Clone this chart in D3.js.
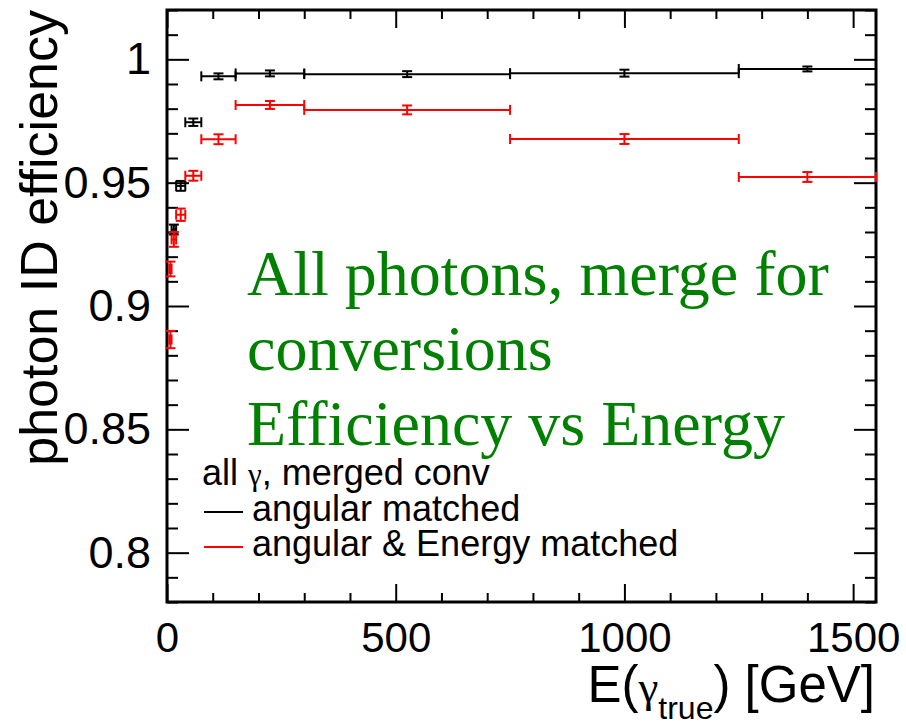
<!DOCTYPE html>
<html lang="en">
<head>
  <meta charset="UTF-8" />
  <title>photon ID efficiency vs energy</title>
  <script src="https://d3js.org/d3.v7.min.js"></script>
  <style>
    body { margin: 0; background: #fff; }
    svg { display: block; }
    .tick text { font-family: 'Liberation Sans', Arial, sans-serif; }
  </style>
</head>
<body>
<script>
  // bin edges and efficiencies
  const angLo   = [10, 20, 40, 75, 150, 300, 750, 1250];
  const angHi   = [20, 40, 75, 150, 300, 750, 1250, 1550];
  const angEff  = [0.931, 0.9487, 0.9745, 0.9931, 0.9943, 0.9940, 0.9944, 0.9961];
  const angErr  = [0.002, 0.002, 0.0015, 0.0012, 0.0012, 0.0012, 0.0014, 0.001];

  const enLo    = [5, 5, 10, 20, 40, 75, 150, 300, 750, 1250];
  const enHi    = [10, 10, 20, 40, 75, 150, 300, 750, 1250, 1550];
  const enEff   = [0.8864, 0.915, 0.927, 0.937, 0.9528, 0.9676, 0.9815, 0.9795, 0.9677, 0.9523];
  const enErr   = [0.0035, 0.003, 0.003, 0.0025, 0.002, 0.002, 0.0016, 0.0018, 0.002, 0.002];

  const xMajor = [0, 500, 1000, 1500];
  const yMajor = [0.8, 0.85, 0.9, 0.95, 1];

  const legendTitle = ["all ", "γ", ", merged conv"];
  const legendNames = ["angular matched", "angular & Energy matched"];
  const seriesColors = ["#000000", "#ff0000"];
  const noteLines = ["All photons, merge for", "conversions", "Efficiency vs Energy"];

  const width = 906, height = 728;
  const x = d3.scaleLinear().domain([0, 1550]).range([167, 876]);
  const y = d3.scaleLinear().domain([0.78, 1.02]).range([602, 10]);

  const svg = d3.select("body").append("svg")
    .attr("width", width)
    .attr("height", height);

  const xMinor = d3.range(0, 1551, 100).filter(v => v % 500 !== 0);
  const yMinor = d3.range(78, 103, 1).map(v => v / 100).filter(v => Math.round(v * 100) % 5 !== 0);

  function addAxis(axis, tx, ty) {
    const g = svg.append("g").attr("transform", `translate(${tx},${ty})`).call(axis);
    g.select(".domain").remove();
    g.selectAll("line").attr("stroke", "#000").attr("stroke-width", 2);
    return g;
  }

  // bottom / top
  const xb = addAxis(d3.axisBottom(x).tickValues(xMajor).tickFormat(d3.format("d"))
    .tickSizeInner(-18).tickSizeOuter(0).tickPadding(20), 0, 602);
  xb.selectAll("text").attr("font-size", 42).attr("fill", "#000");
  addAxis(d3.axisBottom(x).tickValues(xMinor).tickSizeInner(-9).tickSizeOuter(0).tickFormat(""), 0, 602);
  addAxis(d3.axisTop(x).tickValues(xMajor).tickSizeInner(-18).tickSizeOuter(0).tickFormat(""), 0, 10);
  addAxis(d3.axisTop(x).tickValues(xMinor).tickSizeInner(-9).tickSizeOuter(0).tickFormat(""), 0, 10);

  // left / right
  const yl = addAxis(d3.axisLeft(y).tickValues(yMajor).tickSizeInner(-22).tickSizeOuter(0).tickPadding(16)
    .tickFormat(d => String(d)), 167, 0);
  yl.selectAll("text").attr("font-size", 45).attr("fill", "#000");
  addAxis(d3.axisLeft(y).tickValues(yMinor).tickSizeInner(-11).tickSizeOuter(0).tickFormat(""), 167, 0);
  addAxis(d3.axisRight(y).tickValues(yMajor).tickSizeInner(-22).tickSizeOuter(0).tickFormat(""), 876, 0);
  addAxis(d3.axisRight(y).tickValues(yMinor).tickSizeInner(-11).tickSizeOuter(0).tickFormat(""), 876, 0);

  svg.append("rect")
    .attr("x", 167).attr("y", 10)
    .attr("width", 876 - 167).attr("height", 602 - 10)
    .attr("fill", "none").attr("stroke", "#000").attr("stroke-width", 3);

  // error bars (no markers, just bars with caps)
  function drawSeries(lo, hi, eff, err, color) {
    const g = svg.append("g").attr("stroke", color).attr("stroke-width", 2).attr("fill", "none");
    lo.forEach((l, i) => {
      const x0 = x(l), x1 = x(hi[i]), xc = x((l + hi[i]) / 2);
      const yc = y(eff[i]), yt = y(eff[i] + err[i]), yb = y(eff[i] - err[i]);
      g.append("line").attr("x1", x0).attr("x2", x1).attr("y1", yc).attr("y2", yc);
      g.append("line").attr("x1", x0).attr("x2", x0).attr("y1", yc - 5).attr("y2", yc + 5);
      g.append("line").attr("x1", x1).attr("x2", x1).attr("y1", yc - 5).attr("y2", yc + 5);
      g.append("line").attr("x1", xc).attr("x2", xc).attr("y1", yt).attr("y2", yb);
      g.append("line").attr("x1", xc - 5).attr("x2", xc + 5).attr("y1", yt).attr("y2", yt);
      g.append("line").attr("x1", xc - 5).attr("x2", xc + 5).attr("y1", yb).attr("y2", yb);
    });
  }
  drawSeries(angLo, angHi, angEff, angErr, seriesColors[0]);
  drawSeries(enLo, enHi, enEff, enErr, seriesColors[1]);

  // green note
  svg.append("text")
    .attr("font-family", "'Liberation Serif', 'Times New Roman', serif")
    .attr("font-size", 64)
    .attr("fill", "#008000")
    .selectAll("tspan")
    .data(noteLines)
    .join("tspan")
    .attr("x", 247)
    .attr("y", (d, i) => 295 + i * 75)
    .text(d => d);

  // legend
  const sans = "'Liberation Sans', Arial, sans-serif";
  const lt = svg.append("text")
    .attr("x", 202).attr("y", 485)
    .attr("font-family", sans).attr("font-size", 36);
  lt.append("tspan").text(legendTitle[0]);
  lt.append("tspan").attr("font-family", "'Liberation Serif', serif").attr("font-size", 31).text(legendTitle[1]);
  lt.append("tspan").text(legendTitle[2]);
  legendNames.forEach((name, i) => {
    const ly = 512 + i * 35;
    svg.append("line")
      .attr("x1", 204).attr("x2", 243).attr("y1", ly).attr("y2", ly)
      .attr("stroke", seriesColors[i]).attr("stroke-width", 2);
    svg.append("text")
      .attr("x", 252).attr("y", ly + 9)
      .attr("font-family", sans).attr("font-size", 36)
      .text(name);
  });

  // axis titles
  const xt = svg.append("text")
    .attr("x", 875).attr("y", 702)
    .attr("text-anchor", "end")
    .attr("font-family", sans).attr("font-size", 51);
  xt.append("tspan").text("E(");
  xt.append("tspan").attr("font-family", "'Liberation Serif', serif").attr("font-size", 45).text("γ");
  xt.append("tspan").attr("font-size", 32).attr("dy", 17).text("true");
  xt.append("tspan").attr("dy", -17).text(") [GeV]");

  svg.append("text")
    .attr("transform", "translate(57,10) rotate(-90)")
    .attr("text-anchor", "end")
    .attr("font-family", sans).attr("font-size", 52)
    .text("photon ID efficiency");
</script>
</body>
</html>
